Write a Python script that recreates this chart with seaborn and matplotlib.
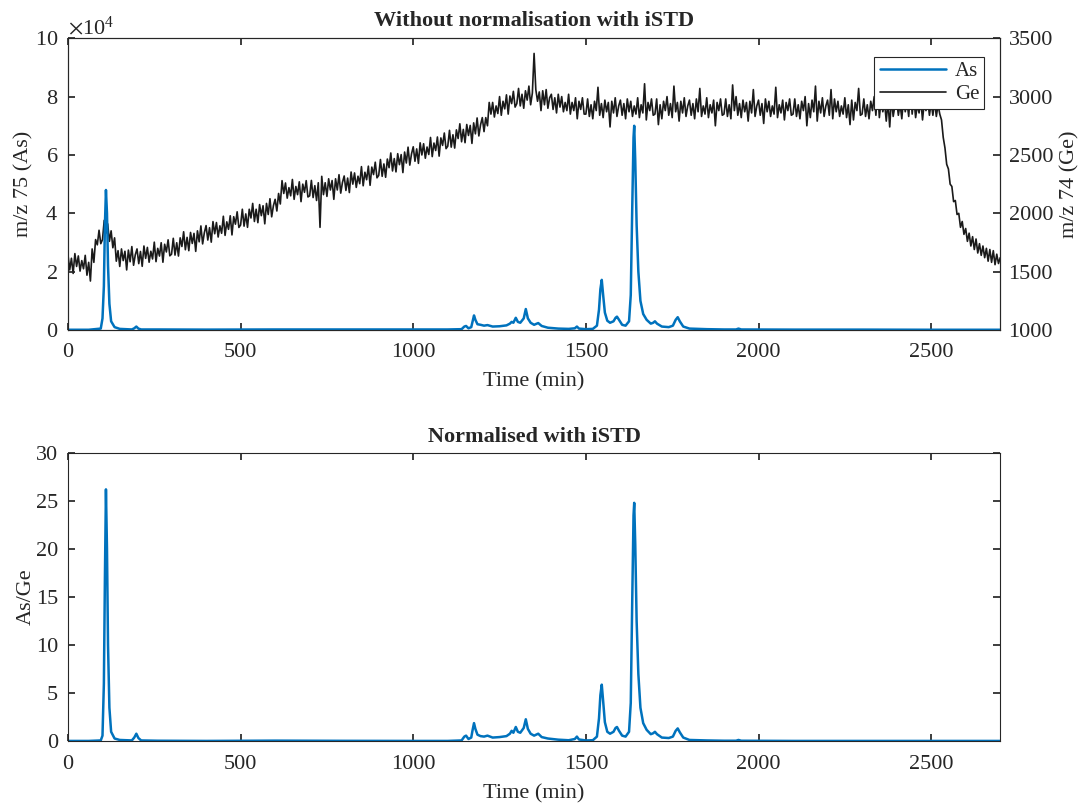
import numpy as np
import pandas as pd
import seaborn as sns
import matplotlib.pyplot as plt
from matplotlib.ticker import ScalarFormatter

# peak times (min) shared by the As trace and the As/Ge ratio
peak_time = [0, 60, 95, 100, 104, 107, 110, 113, 116, 120, 125, 135, 150, 185, 192, 198, 204, 212, 260, 400,
             600, 800, 1000, 1100, 1140, 1148, 1153, 1160, 1168, 1172, 1176, 1180, 1186, 1195, 1205, 1215, 1230, 1250, 1270, 1280,
             1285, 1290, 1297, 1303, 1310, 1320, 1326, 1332, 1340, 1350, 1362, 1372, 1390, 1420, 1450, 1468, 1474, 1480, 1500, 1520,
             1532, 1538, 1542, 1546, 1550, 1555, 1562, 1570, 1580, 1586, 1590, 1596, 1605, 1615, 1625, 1630, 1634, 1638, 1640, 1643,
             1647, 1652, 1658, 1666, 1676, 1688, 1695, 1700, 1706, 1720, 1740, 1752, 1760, 1766, 1772, 1782, 1800, 1850, 1900, 1935,
             1942, 1950, 2100, 2300, 2500, 2700]

# m/z 75 counts
as_counts = [100, 100, 500, 4000, 15000, 36000, 48000, 40000, 22000, 9000, 3000, 1000, 400, 200, 600, 1200, 500, 200, 200, 150,
             200, 200, 200, 200, 300, 1200, 1400, 600, 1000, 3000, 5000, 3500, 2000, 1800, 1500, 1700, 1200, 1300, 1600, 2200,
             2800, 2500, 4200, 2800, 2500, 4000, 7200, 4000, 2500, 1800, 2400, 1400, 800, 500, 400, 600, 1200, 500, 300, 400,
             1500, 7000, 14000, 17200, 12000, 6000, 3200, 2500, 3000, 4200, 4600, 3500, 1800, 1500, 3000, 12000, 40000, 66000, 70000, 58000,
             36000, 20000, 10000, 5500, 3500, 2200, 2500, 3000, 2200, 1200, 1000, 1500, 3500, 4400, 3000, 1200, 500, 300, 200, 200,
             500, 200, 150, 150, 100, 100]

# As/Ge after iSTD normalisation
as_ge_ratio = [0.05, 0.05, 0.1, 0.6, 6, 17, 26.2, 20, 10, 3.5, 1.0, 0.3, 0.15, 0.1, 0.4, 0.8, 0.35, 0.1, 0.07, 0.05,
               0.08, 0.06, 0.05, 0.05, 0.1, 0.5, 0.6, 0.25, 0.4, 1.2, 1.9, 1.3, 0.7, 0.55, 0.5, 0.6, 0.4, 0.45, 0.55, 0.8,
               1.1, 0.9, 1.5, 1.0, 0.9, 1.4, 2.3, 1.3, 0.8, 0.6, 0.8, 0.45, 0.3, 0.18, 0.12, 0.25, 0.5, 0.2, 0.1, 0.12,
               0.5, 2.4, 4.8, 5.9, 4.2, 2.0, 1.0, 0.8, 1.0, 1.4, 1.5, 1.1, 0.6, 0.5, 1.0, 4, 14, 23.5, 24.8, 20.5,
               12.5, 7, 3.5, 1.9, 1.2, 0.75, 0.85, 1.0, 0.75, 0.4, 0.35, 0.5, 1.1, 1.35, 0.95, 0.4, 0.15, 0.1, 0.07, 0.07,
               0.15, 0.07, 0.05, 0.05, 0.05, 0.05]

# m/z 74 (Ge) read every 5 min, one row per 100 min
ge_time = list(range(0, 2705, 5))
ge_counts = [
    1645, 1515, 1615, 1485, 1655, 1545, 1635, 1505, 1595, 1525, 1640, 1470, 1580, 1420, 1695, 1580, 1775, 1730, 1855, 1740,
    1775, 1940, 1830, 1910, 1760, 1850, 1705, 1790, 1590, 1680, 1545, 1695, 1595, 1675, 1515, 1685, 1585, 1715, 1555, 1645,
    1695, 1569, 1673, 1546, 1720, 1614, 1708, 1581, 1675, 1609, 1753, 1586, 1700, 1634, 1748, 1581, 1735, 1669, 1773, 1636,
    1650, 1786, 1642, 1748, 1634, 1790, 1716, 1842, 1688, 1794, 1680, 1836, 1742, 1828, 1674, 1850, 1756, 1892, 1738, 1834,
    1895, 1771, 1877, 1753, 1929, 1825, 1921, 1797, 1893, 1829, 1975, 1811, 1927, 1863, 1979, 1815, 1971, 1907, 2013, 1879,
    1900, 2035, 1890, 1995, 1880, 2035, 1960, 2085, 1930, 2035, 1920, 2075, 1980, 2065, 1910, 2085, 1990, 2125, 1970, 2065,
    2120, 2020, 2170, 2080, 2280, 2170, 2260, 2130, 2220, 2150, 2290, 2120, 2230, 2160, 2270, 2100, 2250, 2180, 2280, 2140,
    2150, 2282, 2135, 2237, 2110, 2262, 1880, 2317, 2160, 2262, 2145, 2296, 2200, 2281, 2120, 2296, 2200, 2331, 2173, 2265,
    2320, 2196, 2302, 2178, 2354, 2250, 2346, 2222, 2318, 2254, 2400, 2236, 2352, 2288, 2404, 2240, 2396, 2332, 2438, 2304,
    2325, 2461, 2317, 2423, 2309, 2465, 2391, 2517, 2363, 2469, 2355, 2511, 2417, 2503, 2349, 2525, 2431, 2567, 2413, 2509,
    2570, 2446, 2552, 2428, 2604, 2500, 2596, 2472, 2568, 2504, 2650, 2486, 2602, 2538, 2654, 2490, 2646, 2582, 2688, 2554,
    2575, 2711, 2567, 2673, 2559, 2715, 2641, 2767, 2613, 2719, 2605, 2761, 2667, 2753, 2599, 2775, 2681, 2817, 2663, 2759,
    2820, 2700, 2820, 2750, 2950, 2850, 2950, 2825, 2920, 2855, 3000, 2840, 2960, 2895, 3015, 2850, 3005, 2940, 3045, 2910,
    2940, 3070, 2920, 3020, 2900, 3050, 2970, 3090, 2930, 3030, 3370, 3060, 2960, 3040, 2880, 3050, 2930, 3060, 2900, 2990,
    3020, 2890, 2990, 2860, 3020, 2910, 3000, 2870, 2950, 2880, 3020, 2850, 2950, 2880, 2990, 2810, 2960, 2890, 2990, 2850,
    2850, 2980, 2830, 2930, 2810, 2960, 2880, 3080, 2840, 2940, 2820, 2970, 2870, 2950, 2740, 2960, 2860, 2990, 2830, 2920,
    2970, 2840, 2940, 2810, 2980, 2870, 2960, 2830, 2920, 2850, 2990, 2820, 2930, 2860, 3110, 2800, 2950, 2880, 2980, 2840,
    2850, 2980, 2760, 2930, 2810, 2960, 2880, 3000, 2840, 2940, 2820, 3090, 2870, 2950, 2790, 2960, 2860, 2990, 2830, 2920,
    2970, 2840, 2940, 2810, 2980, 2870, 3070, 2830, 2920, 2850, 2990, 2820, 2930, 2860, 2970, 2750, 2950, 2880, 2980, 2840,
    2850, 2980, 2830, 2930, 2810, 3100, 2880, 3000, 2840, 2940, 2820, 2970, 2870, 2950, 2790, 2960, 2860, 3060, 2830, 2920,
    2970, 2840, 2940, 2770, 2980, 2870, 2960, 2830, 2920, 2850, 3080, 2820, 2930, 2860, 2970, 2800, 2950, 2880, 2980, 2840,
    2850, 2980, 2830, 2930, 2810, 2960, 2880, 3000, 2750, 2940, 2820, 2970, 2870, 3090, 2790, 2960, 2860, 2990, 2830, 2920,
    2970, 2840, 3060, 2810, 2980, 2870, 2960, 2830, 2920, 2850, 2990, 2820, 2930, 2760, 2970, 2800, 2950, 2880, 3070, 2840,
    2850, 2980, 2830, 2930, 2810, 2960, 2880, 3000, 2840, 3080, 2820, 2970, 2870, 2950, 2790, 2960, 2740, 2990, 2830, 2920,
    2970, 2840, 2940, 2810, 2980, 2870, 2960, 2830, 3060, 2850, 2990, 2820, 2930, 2860, 2970, 2800, 2950, 2880, 2980, 2840,
    2950, 2840, 2960, 2830, 2930, 2850, 2800, 2650, 2560, 2420, 2380, 2250, 2230, 2100, 2110, 1990, 2000, 1880, 1930, 1820,
    1870, 1760, 1830, 1720, 1800, 1690, 1780, 1660, 1740, 1640, 1720, 1620, 1700, 1590, 1690, 1580, 1680, 1560, 1650, 1570,
    1620]

x_ticks = [0, 500, 1000, 1500, 2000, 2500]

peaks = pd.DataFrame({"time": peak_time, "As": as_counts, "ratio": as_ge_ratio})
ge = pd.DataFrame({"time": ge_time, "Ge": ge_counts})

sns.set_theme(style="white")
plt.rcParams['font.family'] = ['Liberation Serif', 'DejaVu Serif']
plt.rcParams['mathtext.fontset'] = 'stix'

fs = 16
blue = "#0072BD"
edge = "#262626"

fig = plt.figure(figsize=(10.84, 8.05), dpi=100)
ax = fig.add_axes([0.0627, 0.590, 0.860, 0.3625])
ax2 = ax.twinx()

sns.lineplot(data=ge, x="time", y="Ge", ax=ax2, color="#1a1a1a", linewidth=1.2, label="Ge", legend=False)
sns.lineplot(data=peaks, x="time", y="As", ax=ax, color=blue, linewidth=1.8, label="As", legend=False)

ax.set_zorder(ax2.get_zorder() + 1)
ax.patch.set_visible(False)

ax.set_xlim(0, 2700)
ax.set_ylim(0, 100000)
ax2.set_ylim(1000, 3500)
ax.set_xticks(x_ticks)
ax.set_yticks([0, 20000, 40000, 60000, 80000, 100000])
ax2.set_yticks([1000, 1500, 2000, 2500, 3000, 3500])
fmt = ScalarFormatter(useMathText=True)
fmt.set_powerlimits((4, 4))
ax.yaxis.set_major_formatter(fmt)
ax.yaxis.get_offset_text().set_fontsize(fs)

ax.set_xlabel("Time (min)", fontsize=fs, labelpad=8)
ax.set_ylabel("m/z 75 (As)", fontsize=fs, labelpad=1)
ax2.set_ylabel("m/z 74 (Ge)", fontsize=fs, labelpad=5)
ax.set_title("Without normalisation with iSTD", fontsize=fs, fontweight="bold", pad=9)

ax.tick_params(axis="x", direction="in", top=True, bottom=True, length=5, color=edge, labelsize=fs, pad=9)
ax.tick_params(axis="y", direction="in", left=True, right=False, length=5, color=edge, labelsize=fs, pad=7)
ax2.tick_params(axis="y", direction="in", right=True, length=5, color=edge, labelsize=fs, pad=6)
for a in (ax, ax2):
    for s in a.spines.values():
        s.set_color(edge)
        s.set_linewidth(0.8)

leg = ax.legend(handles=[ax.lines[0], ax2.lines[0]], labels=["As", "Ge"],
                loc="upper right", bbox_to_anchor=(0.983, 0.937), fontsize=15,
                frameon=True, fancybox=False, edgecolor=edge, framealpha=1,
                handlelength=3.2, borderpad=0.25, labelspacing=0.15, handletextpad=0.4, borderaxespad=0)
leg.get_frame().set_linewidth(0.8)

# bottom panel: normalised
bx = fig.add_axes([0.0627, 0.079, 0.860, 0.3585])
sns.lineplot(data=peaks, x="time", y="ratio", ax=bx, color=blue, linewidth=1.8)
bx.set_xlim(0, 2700)
bx.set_ylim(0, 30)
bx.set_xticks(x_ticks)
bx.set_yticks([0, 5, 10, 15, 20, 25, 30])
bx.set_xlabel("Time (min)", fontsize=fs, labelpad=7)
bx.set_ylabel("As/Ge", fontsize=fs, labelpad=0)
bx.set_title("Normalised with iSTD", fontsize=fs, fontweight="bold", pad=8)
bx.tick_params(direction="in", top=True, right=True, bottom=True, left=True, length=5, color=edge, labelsize=fs, pad=10)
bx.tick_params(axis="y", pad=7)
for s in bx.spines.values():
    s.set_color(edge)
    s.set_linewidth(0.8)

fig.savefig("out.png", dpi=100, facecolor="white")
